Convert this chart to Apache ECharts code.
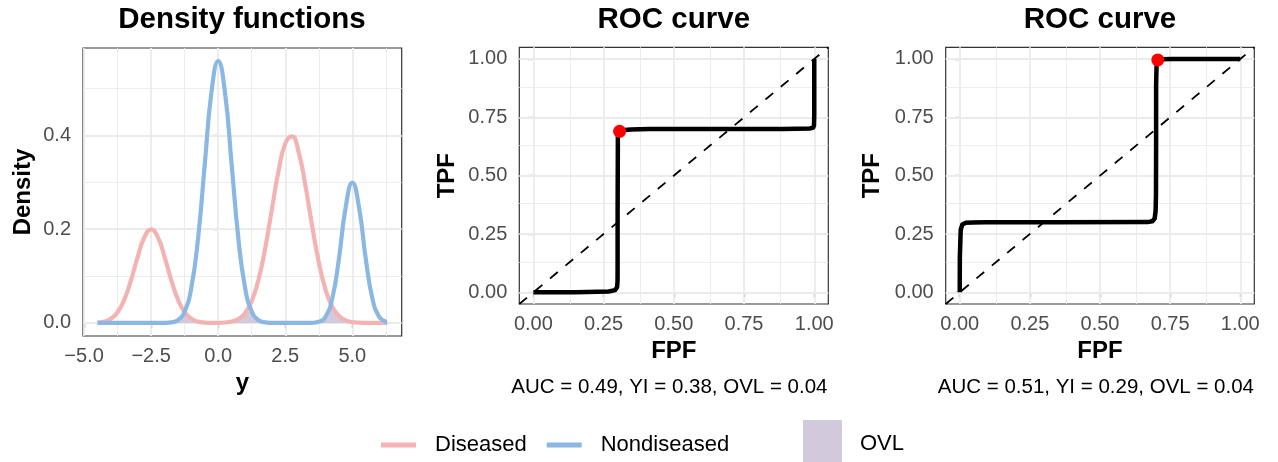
<!DOCTYPE html>
<html>
<head>
<meta charset="utf-8">
<script src="https://cdn.jsdelivr.net/npm/echarts@6/dist/echarts.min.js"></script>
<style>
  html, body { margin: 0; padding: 0; background: #ffffff; }
  #chart { width: 1278px; height: 462px; }
</style>
</head>
<body>
<div id="chart"></div>
<script>
// ---------------- data ----------------
const yGrid = [-4.5,-4.25,-4,-3.75,-3.5,-3.25,-3,-2.75,-2.5,-2.25,-2,-1.75,-1.5,-1.25,-1,-0.75,-0.5,-0.25,0,0.25,0.5,0.75,1,1.25,1.5,1.75,2,2.25,2.5,2.75,3,3.25,3.5,3.75,4,4.25,4.5,4.75,5,5.25,5.5,5.75,6,6.25,6.3];
const diseasedDensity = [0.0008,0.0028,0.0088,0.0228,0.0497,0.0913,0.1410,0.1829,0.1995,0.1829,0.1410,0.0913,0.0497,0.0228,0.0088,0.0028,0.0008,0.0002,0.0003,0.0009,0.0029,0.0082,0.0209,0.0467,0.0918,0.1588,0.2420,0.3245,0.3830,0.3979,0.3639,0.2930,0.2076,0.1295,0.0711,0.0344,0.0146,0.0055,0.0018,0.0005,0.0001,0,0,0,0];
const nondiseasedDensity = [0,0,0,0,0,0,0,0,0,0,0.0002,0.0012,0.0062,0.0245,0.0756,0.1813,0.3388,0.4929,0.5585,0.4929,0.3388,0.1813,0.0756,0.0245,0.0062,0.0012,0.0002,0,0,0,0,0,0.0003,0.0023,0.0132,0.0516,0.1370,0.2461,0.2992,0.2461,0.1370,0.0516,0.0132,0.0023,0.0015];

const roc1Fpf = [0,0.0019,0.15,0.2683,0.2909,0.2981,0.2997,0.2999,0.3,0.3009,0.3044,0.3159,0.3468,0.4111,0.65,0.889,0.9841,0.9957,0.9991,1,1,1];
const roc1Tpf = [0,0,0.0004,0.0035,0.0094,0.022,0.0468,0.0886,0.35,0.6697,0.6866,0.6947,0.6981,0.6995,0.7,0.7,0.7019,0.7056,0.7143,0.7607,0.85,1];
const roc1Optimal = [0.307, 0.69];

const roc2Fpf = [0,0,0.0004,0.0035,0.0094,0.022,0.0468,0.0886,0.35,0.6697,0.6866,0.6947,0.6981,0.6995,0.7,0.7,0.7019,0.7056,0.7143,0.7607,0.85,1];
const roc2Tpf = [0,0.0019,0.15,0.2683,0.2909,0.2981,0.2997,0.2999,0.3,0.3009,0.3044,0.3159,0.3468,0.4111,0.65,0.889,0.9841,0.9957,0.9991,1,1,1];
const roc2Optimal = [0.706, 0.996];

const diagonal = [[-0.05,-0.05],[1.05,1.05]];

const densityXTicks = [-5, -2.5, 0, 2.5, 5];
const densityXMinor = [-3.75, -1.25, 1.25, 3.75, 6.25];
const densityYTicks = [0, 0.2, 0.4];
const densityYMinor = [0.1, 0.3, 0.5];
const rocTicks = [0, 0.25, 0.5, 0.75, 1];
const rocMinor = [0.125, 0.375, 0.625, 0.875];

const titles = ['Density functions', 'ROC curve', 'ROC curve'];
const captions = ['AUC = 0.49, YI = 0.38, OVL = 0.04', 'AUC = 0.51, YI = 0.29, OVL = 0.04'];
const legendNames = ['Diseased', 'Nondiseased', 'OVL'];

// ---------------- styles ----------------
const FONT = '"Liberation Sans", Arial, Helvetica, sans-serif';
const COL_D = '#F3B3B3';
const COL_ND = '#8BB8E2';
const COL_OVL = '#D2C9DC';
const GRID_COL = '#EBEBEB';

const ovlData = yGrid.map((x, i) => [x, Math.min(diseasedDensity[i], nondiseasedDensity[i])]);
const zip = (a, b) => a.map((v, i) => [v, b[i]]);

const fmt = (d) => (v) => (v < 0 ? '\u2212' : '') + Math.abs(v).toFixed(d);

function gridSeries(idx, xMajor, xMinor, yMajor, yMinor) {
  const lines = [];
  const minor = { color: GRID_COL, width: 0.9, type: 'solid' };
  const major = { color: GRID_COL, width: 1.8, type: 'solid' };
  xMinor.forEach(v => lines.push({ xAxis: v, lineStyle: minor }));
  yMinor.forEach(v => lines.push({ yAxis: v, lineStyle: minor }));
  xMajor.forEach(v => lines.push({ xAxis: v, lineStyle: major }));
  yMajor.forEach(v => lines.push({ yAxis: v, lineStyle: major }));
  return {
    type: 'line', xAxisIndex: idx, yAxisIndex: idx, data: [], z: 1, silent: true,
    markLine: { symbol: 'none', silent: true, animation: false, z: 1, label: { show: false },
      lineStyle: { type: 'solid', color: GRID_COL },
      emphasis: { disabled: true }, data: lines }
  };
}

function xAxis(idx, min, max, ticks, dec, name, gap) {
  return {
    type: 'value', gridIndex: idx, min: min, max: max,
    name: name, nameLocation: 'middle', nameGap: gap,
    nameTextStyle: { fontFamily: FONT, fontSize: 24, fontWeight: 'bold', color: '#000' },
    axisLine: { show: false },
    axisTick: { show: true, length: 5, lineStyle: { color: '#333333', width: 1.2 }, customValues: ticks },
    axisLabel: { show: true, margin: 10, fontFamily: FONT, fontSize: 20, color: '#4D4D4D', customValues: ticks, formatter: fmt(dec) },
    splitLine: { show: false }, minorSplitLine: { show: false }
  };
}
function yAxis(idx, min, max, ticks, dec, name, gap) {
  return {
    type: 'value', gridIndex: idx, min: min, max: max,
    name: name, nameLocation: 'middle', nameGap: gap,
    nameTextStyle: { fontFamily: FONT, fontSize: 24, fontWeight: 'bold', color: '#000' },
    axisLine: { show: false },
    axisTick: { show: true, length: 5, lineStyle: { color: '#333333', width: 1.2 }, customValues: ticks },
    axisLabel: { show: true, margin: 12, fontFamily: FONT, fontSize: 20, color: '#4D4D4D', customValues: ticks, formatter: fmt(dec) },
    splitLine: { show: false }, minorSplitLine: { show: false }
  };
}

const chart = echarts.init(document.getElementById('chart'), null, { renderer: 'canvas' });

const TITLE_FONT = 'bold 29.5px ' + FONT;
const option = {
  animation: false,
  backgroundColor: '#ffffff',
  textStyle: { fontFamily: FONT },
  grid: [
    { left: 83, top: 48, width: 318.7, height: 288, show: true, borderColor: '#333333', borderWidth: 1.2, backgroundColor: 'transparent', containLabel: false },
    { left: 519.3, top: 47.3, width: 309, height: 256.7, show: true, borderColor: '#333333', borderWidth: 1.2, backgroundColor: 'transparent', containLabel: false },
    { left: 945.7, top: 47.3, width: 308.6, height: 256.7, show: true, borderColor: '#333333', borderWidth: 1.2, backgroundColor: 'transparent', containLabel: false }
  ],
  xAxis: [
    xAxis(0, -5.04, 6.84, densityXTicks, 1, 'y', 34),
    xAxis(1, -0.05, 1.05, rocTicks, 2, 'FPF', 34),
    xAxis(2, -0.05, 1.05, rocTicks, 2, 'FPF', 34)
  ],
  yAxis: [
    yAxis(0, -0.0279, 0.5866, densityYTicks, 1, 'Density', 48),
    yAxis(1, -0.05, 1.05, rocTicks, 2, 'TPF', 60),
    yAxis(2, -0.05, 1.05, rocTicks, 2, 'TPF', 61)
  ],
  legend: [
    {
      data: [legendNames[0], legendNames[1]], left: 381, top: 434, orient: 'horizontal', padding: 0,
      icon: 'rect', itemWidth: 35, itemHeight: 5, itemGap: 20, selectedMode: false,
      textStyle: { fontFamily: FONT, fontSize: 22, color: '#000', padding: [0, 0, 0, 14] }
    },
    {
      data: [{ name: legendNames[2], itemStyle: { color: COL_OVL } }], left: 803, top: 420, padding: 0,
      icon: 'rect', itemWidth: 39, itemHeight: 42, selectedMode: false,
      formatter: '{t|{name}}',
      textStyle: { fontFamily: FONT, fontSize: 22, color: '#000', padding: [0, 0, 0, 13],
        rich: { t: { fontFamily: FONT, fontSize: 22, color: '#000', padding: [6, 0, 0, 0] } } }
    }
  ],
  graphic: [
    { type: 'text', x: 242, y: 19.5, style: { text: titles[0], textAlign: 'center', textVerticalAlign: 'middle', font: TITLE_FONT, fill: '#000' } },
    { type: 'text', x: 673.8, y: 19.5, style: { text: titles[1], textAlign: 'center', textVerticalAlign: 'middle', font: TITLE_FONT, fill: '#000' } },
    { type: 'text', x: 1100, y: 19.5, style: { text: titles[2], textAlign: 'center', textVerticalAlign: 'middle', font: TITLE_FONT, fill: '#000' } },
    { type: 'text', x: 827.5, y: 387, style: { text: captions[0], textAlign: 'right', textVerticalAlign: 'middle', font: '20.5px ' + FONT, fill: '#000' } },
    { type: 'text', x: 1254, y: 387, style: { text: captions[1], textAlign: 'right', textVerticalAlign: 'middle', font: '20.5px ' + FONT, fill: '#000' } }
  ],
  series: [
    gridSeries(0, densityXTicks, densityXMinor, densityYTicks, densityYMinor),
    gridSeries(1, rocTicks, rocMinor, rocTicks, rocMinor),
    gridSeries(2, rocTicks, rocMinor, rocTicks, rocMinor),
    {
      name: legendNames[2], type: 'line', xAxisIndex: 0, yAxisIndex: 0, data: ovlData, smooth: true,
      showSymbol: false, z: 2, color: COL_OVL, itemStyle: { color: COL_OVL },
      lineStyle: { width: 0, color: COL_OVL }, areaStyle: { color: COL_OVL, opacity: 1 }
    },
    {
      name: legendNames[0], type: 'line', xAxisIndex: 0, yAxisIndex: 0, data: zip(yGrid, diseasedDensity), smooth: true,
      showSymbol: false, z: 3, color: COL_D, itemStyle: { color: COL_D }, lineStyle: { width: 4.2, color: COL_D }
    },
    {
      name: legendNames[1], type: 'line', xAxisIndex: 0, yAxisIndex: 0, data: zip(yGrid, nondiseasedDensity), smooth: true,
      showSymbol: false, z: 4, color: COL_ND, itemStyle: { color: COL_ND }, lineStyle: { width: 4.2, color: COL_ND }
    },
    {
      type: 'line', xAxisIndex: 1, yAxisIndex: 1, data: diagonal, showSymbol: false, z: 3,
      lineStyle: { width: 1.8, color: '#000', type: [10, 10] }
    },
    {
      type: 'line', xAxisIndex: 1, yAxisIndex: 1, data: zip(roc1Fpf, roc1Tpf), showSymbol: false, z: 4,
      lineStyle: { width: 4.5, color: '#000', join: 'round' }
    },
    {
      type: 'scatter', xAxisIndex: 1, yAxisIndex: 1, data: [roc1Optimal], symbolSize: 13, z: 5,
      itemStyle: { color: '#FF0000', opacity: 1 }
    },
    {
      type: 'line', xAxisIndex: 2, yAxisIndex: 2, data: diagonal, showSymbol: false, z: 3,
      lineStyle: { width: 1.8, color: '#000', type: [10, 10] }
    },
    {
      type: 'line', xAxisIndex: 2, yAxisIndex: 2, data: zip(roc2Fpf, roc2Tpf), showSymbol: false, z: 4,
      lineStyle: { width: 4.5, color: '#000', join: 'round' }
    },
    {
      type: 'scatter', xAxisIndex: 2, yAxisIndex: 2, data: [roc2Optimal], symbolSize: 13, z: 5,
      itemStyle: { color: '#FF0000', opacity: 1 }
    }
  ]
};
chart.setOption(option);
</script>
</body>
</html>
